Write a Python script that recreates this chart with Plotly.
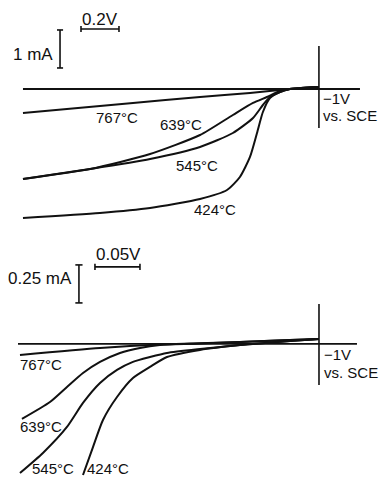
import plotly.graph_objects as go
from plotly.subplots import make_subplots

# ---------------- data (potential E in V vs SCE, current I in mA) ----------------
# Top panel
top_labels = ["767°C", "639°C", "545°C", "424°C"]
top_E_767 = [-2.558, -1.979, -1.626, -1.363, -1.153, -1.0]
top_I_767 = [-0.632, -0.368, -0.211, -0.105, 0.0, 0.053]
top_E_639 = [-2.558, -2.205, -1.889, -1.626, -1.453, -1.347, -1.274, -1.205, -1.153, -1.0]
top_I_639 = [-2.368, -2.105, -1.711, -1.211, -0.684, -0.368, -0.211, -0.053, 0.0, 0.053]
top_E_545 = [-2.558, -2.205, -1.889, -1.626, -1.453, -1.347, -1.295, -1.258, -1.205, -1.153, -1.0]
top_I_545 = [-2.368, -2.105, -1.842, -1.526, -1.158, -0.763, -0.421, -0.211, -0.079, 0.0, 0.053]
top_E_424 = [-2.558, -2.153, -1.889, -1.626, -1.484, -1.416, -1.363, -1.326, -1.295, -1.258, -1.205, -1.153, -1.0]
top_I_424 = [-3.395, -3.263, -3.132, -2.895, -2.658, -2.316, -1.789, -1.158, -0.605, -0.237, -0.079, 0.0, 0.053]
top_base_E = [-2.558, -0.784]

# Bottom panel
bot_labels = ["767°C", "639°C", "545°C", "424°C"]
bot_E_767 = [-1.3322, -1.2433, -1.1767, -1.0878, -1.0322, -1.0]
bot_I_767 = [-0.072, -0.026, -0.003, 0.013, 0.026, 0.033]
bot_E_639 = [-1.33, -1.2989, -1.28, -1.2622, -1.2433, -1.2211, -1.1989, -1.1767, -1.1322, -1.0878, -1.0322, -1.0]
bot_I_639 = [-0.493, -0.382, -0.283, -0.191, -0.118, -0.059, -0.026, -0.007, 0.003, 0.013, 0.026, 0.033]
bot_E_545 = [-1.3322, -1.3067, -1.28, -1.2622, -1.2433, -1.2244, -1.2067, -1.1878, -1.1689, -1.1322, -1.0878, -1.0322, -1.0]
bot_I_545 = [-0.849, -0.717, -0.546, -0.388, -0.257, -0.171, -0.118, -0.086, -0.059, -0.033, -0.007, 0.020, 0.033]
bot_E_424 = [-1.2622, -1.2511, -1.24, -1.2244, -1.2067, -1.1878, -1.1689, -1.1322, -1.0878, -1.0322, -1.0]
bot_I_424 = [-0.862, -0.678, -0.5, -0.349, -0.224, -0.151, -0.086, -0.039, -0.007, 0.020, 0.033]
bot_base_E = [-1.3344, -0.9578]

# scale bars
TOP_SCALE_V, TOP_SCALE_I = 0.2, 1.0
BOT_SCALE_V, BOT_SCALE_I = 0.05, 0.25

# ---------------- figure ----------------
W, H = 382, 477
FONT = "Liberation Sans, Arial, sans-serif"
BLACK = "#111111"

fig = make_subplots(rows=2, cols=1, vertical_spacing=0.0)

def curve(E, I, row, width=2.0):
    fig.add_trace(go.Scatter(x=E, y=I, mode="lines",
                             line=dict(color=BLACK, width=width, shape="spline", smoothing=0.6),
                             hoverinfo="skip", showlegend=False), row=row, col=1)

def seg(x0, y0, x1, y1, row, width=1.6):
    fig.add_trace(go.Scatter(x=[x0, x1], y=[y0, y1], mode="lines",
                             line=dict(color=BLACK, width=width),
                             hoverinfo="skip", showlegend=False), row=row, col=1)

# top panel curves
for E, I in [(top_E_767, top_I_767), (top_E_639, top_I_639),
             (top_E_545, top_I_545), (top_E_424, top_I_424)]:
    curve(E, I, 1)
seg(top_base_E[0], 0, top_base_E[1], 0, 1, width=2.0)
seg(-1.0, 1.132, -1.0, -1.026, 1, width=1.6)

# top scale bars
sx0 = -2.2526
seg(sx0, 1.579, sx0 + TOP_SCALE_V, 1.579, 1)
seg(sx0, 1.50, sx0, 1.66, 1)
seg(sx0 + TOP_SCALE_V, 1.50, sx0 + TOP_SCALE_V, 1.66, 1)
vx = -2.363
vy0 = 1.553
seg(vx, vy0, vx, vy0 - TOP_SCALE_I, 1)
seg(vx - 0.016, vy0, vx + 0.016, vy0, 1)
seg(vx - 0.016, vy0 - TOP_SCALE_I, vx + 0.016, vy0 - TOP_SCALE_I, 1)

# bottom panel curves
for E, I in [(bot_E_767, bot_I_767), (bot_E_639, bot_I_639),
             (bot_E_545, bot_I_545), (bot_E_424, bot_I_424)]:
    curve(E, I, 2)
seg(bot_base_E[0], 0, bot_base_E[1], 0, 2, width=1.8)
seg(-1.0, 0.263, -1.0, -0.270, 2, width=1.6)

# bottom scale bars
bx0 = -1.2489
seg(bx0, 0.507, bx0 + BOT_SCALE_V, 0.507, 2)
seg(bx0, 0.487, bx0, 0.527, 2)
seg(bx0 + BOT_SCALE_V, 0.487, bx0 + BOT_SCALE_V, 0.527, 2)
bvx = -1.2667
bvy0 = 0.520
seg(bvx, bvy0, bvx, bvy0 - BOT_SCALE_I, 2)
seg(bvx - 0.004, bvy0, bvx + 0.004, bvy0, 2)
seg(bvx - 0.004, bvy0 - BOT_SCALE_I, bvx + 0.004, bvy0 - BOT_SCALE_I, 2)

# annotations
def ann(text, x, y, xref, yref, xanchor="center", size=17):
    fig.add_annotation(text=text, x=x, y=y, xref=xref, yref=yref, showarrow=False,
                       xanchor=xanchor, yanchor="middle",
                       font=dict(family=FONT, size=size, color=BLACK))

TEMP_SIZE = 15
SIDE_SIZE = 15

top_lab_pos = [(-2.063, -0.737), (-1.726, -0.947), (-1.642, -2.026), (-1.547, -3.184)]
for t, (x, y) in zip(top_labels, top_lab_pos):
    ann(t, x, y, "x", "y", size=TEMP_SIZE)
ann("0.2V", -2.153, 1.816, "x", "y")
ann("1 mA", -2.389, 0.921, "x", "y", xanchor="right")
ann("−1V", -0.989, -0.25, "x", "y", xanchor="left", size=SIDE_SIZE)
ann("vs. SCE", -0.989, -0.69, "x", "y", xanchor="left", size=SIDE_SIZE)

bot_lab_pos = [(-1.3089, -0.138), (-1.3089, -0.546), (-1.2956, -0.822), (-1.2344, -0.822)]
for t, (x, y) in zip(bot_labels, bot_lab_pos):
    ann(t, x, y, "x2", "y2", size=TEMP_SIZE)
ann("0.05V", -1.2233, 0.586, "x2", "y2")
ann("0.25 mA", -1.2722, 0.428, "x2", "y2", xanchor="right")
ann("−1V", -0.9967, -0.072, "x2", "y2", xanchor="left", size=SIDE_SIZE)
ann("vs. SCE", -0.9967, -0.185, "x2", "y2", xanchor="left", size=SIDE_SIZE)

axis_common = dict(visible=False, showgrid=False, zeroline=False, fixedrange=True)
fig.update_layout(
    width=W, height=H, autosize=False,
    margin=dict(l=0, r=0, t=0, b=0, pad=0),
    paper_bgcolor="white", plot_bgcolor="white",
    showlegend=False,
    xaxis=dict(domain=[0, 1], range=[-2.679, -0.668], **axis_common),
    yaxis=dict(domain=[1 - 238 / 477, 1], range=[-3.921, 2.342], **axis_common),
    xaxis2=dict(domain=[0, 1], range=[-1.3544, -0.93], **axis_common),
    yaxis2=dict(domain=[0, 239 / 477], range=[-0.875, 0.697], **axis_common),
)

fig.write_html("out.html", config={"displayModeBar": False, "staticPlot": True},
               post_script="document.body.style.margin='0';document.body.style.overflow='hidden';")
